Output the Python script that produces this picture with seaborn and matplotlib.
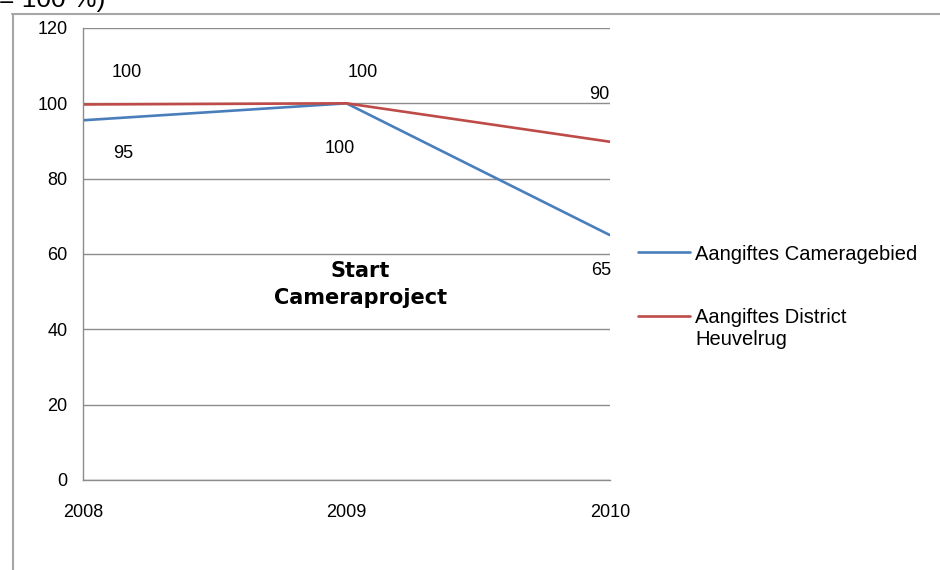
import matplotlib
matplotlib.use("Agg")
import matplotlib.pyplot as plt
import seaborn as sns
import pandas as pd
from matplotlib.lines import Line2D

years = ["2008", "2009", "2010"]
camera = [95.5, 100, 65]
district = [99.7, 100, 89.8]
camera_labels = ["95", "100", "65"]
district_labels = ["100", "100", "90"]
series_names = ["Aangiftes Cameragebied", "Aangiftes District"]
extra_line = "Heuvelrug"
yticks = [0, 20, 40, 60, 80, 100, 120]

sns.set_style("white")
plt.rcParams["font.family"] = ["Liberation Sans", "DejaVu Sans"]
plt.rcParams["text.color"] = "black"

df = pd.DataFrame({
    "pos": list(range(len(years))) * 2,
    "value": camera + district,
    "serie": [series_names[0]] * 3 + [series_names[1]] * 3,
})

fig = plt.figure(figsize=(9.4, 5.7), dpi=100)
W, H = 940, 570
ax = fig.add_axes([83 / W, 1 - 480 / H, (610 - 83) / W, (480 - 28) / H])

palette = {series_names[0]: "#4A7EBB", series_names[1]: "#BE4B48"}
sns.lineplot(data=df, x="pos", y="value", hue="serie", palette=palette,
             linewidth=1.9, ax=ax, legend=True)

ax.set_xlim(0, 2)
ax.set_ylim(0, 120)
ax.set_xticks(range(len(years)))
ax.set_xticklabels(years)
ax.set_yticks(yticks)
ax.set_yticklabels([str(v) for v in yticks])
ax.set_xlabel("")
ax.set_ylabel("")
ax.yaxis.grid(True, color="#8c8c8c", linewidth=1.0)
ax.set_axisbelow(True)
for s in ["top", "right"]:
    ax.spines[s].set_visible(False)
for s in ["left", "bottom"]:
    ax.spines[s].set_color("#8c8c8c")
    ax.spines[s].set_linewidth(1.0)
ax.tick_params(axis="both", which="major", direction="out", length=4,
               width=1.0, color="#8c8c8c", labelsize=13, labelcolor="#000000")
ax.tick_params(axis="y", pad=7)
ax.tick_params(axis="x", pad=13)

# data labels
cam_off = [(40, -33), (-7, -45), (-9, -35)]
dis_off = [(44, 32), (16, 31), (-11, 47)]
for i in range(len(years)):
    ax.annotate(camera_labels[i], (i, camera[i]), xytext=cam_off[i],
                textcoords="offset pixels", ha="center", va="center",
                fontsize=13, color="black")
    ax.annotate(district_labels[i], (i, district[i]), xytext=dis_off[i],
                textcoords="offset pixels", ha="center", va="center",
                fontsize=13, color="black")

ax.text(0.526, 0.432, "Start\nCameraproject", transform=ax.transAxes,
        ha="center", va="center", fontsize=15, fontweight="bold",
        family=["DejaVu Sans"], linespacing=1.45, color="black")

handles, labels = ax.get_legend_handles_labels()
leg = ax.legend(handles, labels, loc="upper left",
                bbox_to_anchor=(638 / W, 1 - 244.5 / H),
                bbox_transform=fig.transFigure, frameon=False, fontsize=14.5,
                handlelength=2.6, handletextpad=0.25, labelspacing=2.2,
                borderpad=0, borderaxespad=0, labelcolor="black")

fig.canvas.draw()
bb = leg.get_texts()[1].get_window_extent(fig.canvas.get_renderer())
fig.text(bb.x0 / W, (bb.y0 - 3) / H, extra_line, ha="left", va="top",
         fontsize=14.5, color="black")

# outer chart frame (partially visible)
fig.add_artist(Line2D([12 / W, 1], [1 - 13.5 / H, 1 - 13.5 / H],
                      transform=fig.transFigure, color="#a6a6a6", linewidth=1.5))
fig.add_artist(Line2D([12.5 / W, 12.5 / W], [0, 1 - 13.5 / H],
                      transform=fig.transFigure, color="#a6a6a6", linewidth=1.5))

# clipped title text at the very top
fig.text(-1 / W, 1 - 7.5 / H, "= 100 %)", ha="left", va="baseline",
         fontsize=19, color="black")

fig.savefig("out.png", dpi=100, facecolor="white")
